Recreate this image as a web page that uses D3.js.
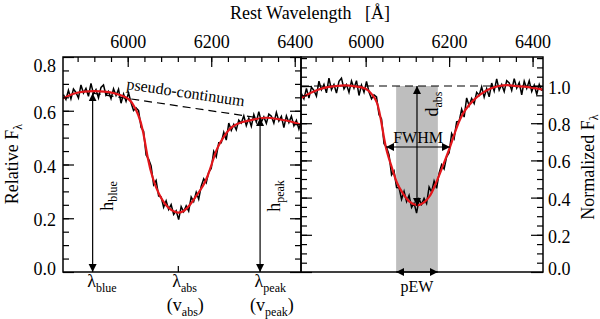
<!DOCTYPE html>
<html>
<head>
<meta charset="utf-8">
<script src="https://cdn.jsdelivr.net/npm/d3@7"></script>
<style>
body { margin: 0; background: #fff; }
text { font-family: "Liberation Serif", "Times New Roman", serif; fill: #000; }
</style>
</head>
<body>
<div id="chart"></div>
<script>
// wavelength grid of the spectrum (first pixel + step, Angstrom)
var wave0 = 5846, waveStep = 6;

// observed spectrum, relative flux (left panel)
var fluxRel = [
  .660, .642, .676, .644, .681, .668, .647, .696, .666, .683,
  .654, .702, .663, .679, .648, .687, .696, .658, .672, .645,
  .682, .657, .680, .628, .662, .635, .667, .630, .601, .611,
  .601, .538, .524, .435, .420, .395, .325, .341, .283, .279,
  .241, .265, .233, .251, .214, .228, .195, .243, .224, .246,
  .227, .279, .262, .297, .271, .319, .347, .332, .372, .385,
  .449, .429, .481, .481, .520, .491, .554, .527, .549, .529,
  .565, .554, .581, .545, .572, .542, .586, .558, .597, .558,
  .577, .553, .588, .580, .554, .594, .562, .579, .537, .581,
  .556, .580, .544, .564, .532, .564, .542
];

// same spectrum divided by the pseudo-continuum (right panel)
var fluxNorm = [
  .959, .931, .987, .935, .994, .976, .945, 1.026, .980, 1.009,
  .963, 1.042, .980, 1.008, .962, 1.025, 1.042, .984, 1.008, .966,
  1.027, .988, 1.029, .949, 1.005, .966, 1.025, .967, .931, .953,
  .942, .846, .823, .690, .671, .630, .522, .543, .454, .453,
  .391, .434, .379, .412, .347, .370, .317, .392, .364, .396,
  .368, .457, .430, .489, .450, .531, .577, .554, .619, .641,
  .745, .718, .807, .810, .875, .833, .936, .894, .933, .906,
  .966, .950, .995, .940, .986, .942, 1.016, .973, 1.038, .978,
  1.008, .970, 1.029, 1.017, .976, 1.039, .989, 1.018, .953, 1.026,
  .987, 1.028, .971, 1.005, .956, 1.009, .975
];

// smooth fit (red), left panel
var fitRelWave = [5845, 5870, 5895, 5920, 5945, 5970, 5995, 6010, 6025, 6037, 6048, 6061, 6075, 6090, 6105, 6120,
                  6135, 6150, 6165, 6180, 6192, 6204, 6215, 6230, 6250, 6275, 6300, 6330, 6360, 6390, 6415];
var fitRelFlux = [.645, .663, .671, .673, .671, .664, .650, .630, .585, .520, .425, .345, .290, .252, .230, .221,
                  .228, .252, .285, .320, .360, .415, .462, .503, .540, .558, .567, .574, .569, .560, .548];

// smooth fit (red), right panel
var fitNormWave = [5845, 5870, 5900, 5930, 5950, 5975, 6000, 6015, 6027, 6038, 6049, 6063, 6075, 6090, 6105, 6123,
                   6140, 6154, 6166, 6178, 6190, 6202, 6214, 6226, 6240, 6257, 6275, 6298, 6320, 6339, 6360, 6387, 6425];
var fitNormFlux = [.935, .965, .990, 1.000, 1.003, .998, .985, .955, .910, .800, .665, .560, .480, .420, .378, .360,
                   .375, .410, .465, .530, .600, .672, .750, .820, .875, .920, .955, .985, 1.000, 1.005, 1.000, .995, .980];

// measured features
var lamBlue = 5916, lamAbs = 6120, lamPeak = 6317;
var contBlue = 0.665, contPeak = 0.573;
var fwhmLo = 6049, fwhmHi = 6202, fwhmLevel = 0.672;
var pewLo = 6073, pewHi = 6173;
var dabsWave = 6123, dabsMin = 0.355;

// tick labels
var topTicks = [6000, 6200, 6400];
var leftTicks = [0, 0.2, 0.4, 0.6, 0.8];
var rightTicks = [0, 0.2, 0.4, 0.6, 0.8, 1.0];

var waves = fluxRel.map(function(d, i) { return wave0 + i * waveStep; });

var svg = d3.select("#chart").append("svg")
  .attr("width", 600)
  .attr("height", 319);

var pTop = 57, pBottom = 272, pLeft = 63, pMid = 301, pRight = 543;

var xL = d3.scaleLinear().domain([5845, 6415]).range([pLeft, pMid]),
    xR = d3.scaleLinear().domain([5845, 6425]).range([pMid, pRight]),
    yL = d3.scaleLinear().domain([0, 0.8]).range([pBottom, pTop]),
    yR = d3.scaleLinear().domain([0, 1.156]).range([pBottom, pTop]);

var defs = svg.append("defs");
defs.append("clipPath").attr("id", "clipL").append("rect")
  .attr("x", pLeft).attr("y", pTop).attr("width", pMid - pLeft).attr("height", pBottom - pTop);
defs.append("clipPath").attr("id", "clipR").append("rect")
  .attr("x", pMid).attr("y", pTop).attr("width", pRight - pMid).attr("height", pBottom - pTop);
defs.append("marker")
  .attr("id", "head")
  .attr("viewBox", "0 0 10 10")
  .attr("refX", 10).attr("refY", 5)
  .attr("markerWidth", 8).attr("markerHeight", 9)
  .attr("markerUnits", "userSpaceOnUse")
  .attr("orient", "auto-start-reverse")
  .append("path").attr("d", "M0,0L10,5L0,10Z").attr("fill", "#000");

// pEW band
svg.append("rect")
  .attr("x", xR(pewLo)).attr("y", yR(1.0))
  .attr("width", xR(pewHi) - xR(pewLo))
  .attr("height", yR(0) - yR(1.0))
  .attr("fill", "#bebebe");

// dashed continuum lines
svg.append("line")
  .attr("x1", xL(lamBlue)).attr("y1", yL(contBlue))
  .attr("x2", xL(lamPeak)).attr("y2", yL(contPeak))
  .attr("stroke", "#000").attr("stroke-width", 1.2).attr("stroke-dasharray", "8,5");
svg.append("line")
  .attr("x1", xR(5845)).attr("y1", yR(1.0))
  .attr("x2", xR(6425)).attr("y2", yR(1.0))
  .attr("stroke", "#000").attr("stroke-width", 1.2).attr("stroke-dasharray", "8,5");

// spectra
var specL = d3.line().x(function(d, i) { return xL(waves[i]); }).y(function(d) { return yL(d); });
var specR = d3.line().x(function(d, i) { return xR(waves[i]); }).y(function(d) { return yR(d); });

svg.append("path").datum(fluxRel).attr("clip-path", "url(#clipL)")
  .attr("d", specL).attr("fill", "none").attr("stroke", "#000").attr("stroke-width", 1.5);
svg.append("path").datum(fluxNorm).attr("clip-path", "url(#clipR)")
  .attr("d", specR).attr("fill", "none").attr("stroke", "#000").attr("stroke-width", 1.5);

var fitL = d3.line().x(function(d, i) { return xL(fitRelWave[i]); }).y(function(d) { return yL(d); }).curve(d3.curveNatural);
var fitR = d3.line().x(function(d, i) { return xR(fitNormWave[i]); }).y(function(d) { return yR(d); }).curve(d3.curveNatural);

svg.append("path").datum(fitRelFlux).attr("clip-path", "url(#clipL)")
  .attr("d", fitL).attr("fill", "none").attr("stroke", "#e3161b").attr("stroke-width", 2.2);
svg.append("path").datum(fitNormFlux).attr("clip-path", "url(#clipR)")
  .attr("d", fitR).attr("fill", "none").attr("stroke", "#e3161b").attr("stroke-width", 2.2);

// arrows
function arrow(x1, y1, x2, y2) {
  svg.append("line")
    .attr("x1", x1).attr("y1", y1).attr("x2", x2).attr("y2", y2)
    .attr("stroke", "#000").attr("stroke-width", 1.2)
    .attr("marker-start", "url(#head)").attr("marker-end", "url(#head)");
}
arrow(xL(lamBlue), yL(contBlue), xL(lamBlue), yL(0));
arrow(xL(lamPeak), yL(contPeak), xL(lamPeak), yL(0));
arrow(xR(dabsWave), yR(1.0), xR(dabsWave), yR(dabsMin));
arrow(xR(fwhmLo), yR(fwhmLevel), xR(fwhmHi), yR(fwhmLevel));
arrow(xR(pewLo), yR(0), xR(pewHi), yR(0));

// axes
function styleAxis(g) {
  g.attr("font-size", 18).attr("font-family", null);
  g.select(".domain").remove();
  g.selectAll(".tick line").attr("stroke-width", 1.2);
}
var minorWave = d3.range(5880, 6401, 40);

[xL, xR].forEach(function(x) {
  svg.append("g").attr("transform", "translate(0," + pTop + ")")
    .call(d3.axisTop(x).tickValues(minorWave).tickSize(-5).tickFormat(""))
    .call(styleAxis);
  svg.append("g").attr("transform", "translate(0," + pTop + ")")
    .call(d3.axisTop(x).tickValues(topTicks).tickSize(-10).tickPadding(9).tickFormat(d3.format("d")))
    .call(styleAxis);
});

var minorL = d3.range(1, 16).map(function(k) { return k * 0.05; });
var minorR = d3.range(1, 24).map(function(k) { return k * 0.05; });

// left axis of left panel
svg.append("g").attr("transform", "translate(" + pLeft + ",0)")
  .call(d3.axisLeft(yL).tickValues(minorL).tickSize(-6).tickFormat(""))
  .call(styleAxis);
var axL = svg.append("g").attr("transform", "translate(" + pLeft + ",0)")
  .call(d3.axisLeft(yL).tickValues(leftTicks).tickSize(-11).tickPadding(7).tickFormat(d3.format(".1f")))
  .call(styleAxis);
axL.selectAll(".tick text").attr("dy", function(d) { return d === 0.8 ? "0.8em" : d === 0 ? "0.12em" : "0.42em"; });

// shared divider: left-scale ticks pointing left, right-scale ticks pointing right
svg.append("g").attr("transform", "translate(" + pMid + ",0)")
  .call(d3.axisRight(yL).tickValues(minorL).tickSize(-6).tickFormat(""))
  .call(styleAxis);
svg.append("g").attr("transform", "translate(" + pMid + ",0)")
  .call(d3.axisRight(yL).tickValues(leftTicks).tickSize(-11).tickFormat(""))
  .call(styleAxis);
svg.append("g").attr("transform", "translate(" + pMid + ",0)")
  .call(d3.axisLeft(yR).tickValues(minorR).tickSize(-6).tickFormat(""))
  .call(styleAxis);
svg.append("g").attr("transform", "translate(" + pMid + ",0)")
  .call(d3.axisLeft(yR).tickValues(rightTicks).tickSize(-11).tickFormat(""))
  .call(styleAxis);

// right axis of right panel
svg.append("g").attr("transform", "translate(" + pRight + ",0)")
  .call(d3.axisRight(yR).tickValues(minorR).tickSize(-6).tickFormat(""))
  .call(styleAxis);
var axR = svg.append("g").attr("transform", "translate(" + pRight + ",0)")
  .call(d3.axisRight(yR).tickValues(rightTicks).tickSize(-12).tickPadding(5).tickFormat(d3.format(".1f")))
  .call(styleAxis);
axR.selectAll(".tick text").attr("dy", function(d) { return d === 0 ? "0.12em" : "0.42em"; });

// lambda_abs tick on the bottom
svg.append("g").attr("transform", "translate(0," + pBottom + ")")
  .call(d3.axisBottom(xL).tickValues([lamAbs]).tickSize(-6).tickFormat(""))
  .call(styleAxis);

// frames
[[pLeft, pMid], [pMid, pRight]].forEach(function(p) {
  svg.append("rect")
    .attr("x", p[0]).attr("y", pTop).attr("width", p[1] - p[0]).attr("height", pBottom - pTop)
    .attr("fill", "none").attr("stroke", "#000").attr("stroke-width", 1.5);
});

// texts
function subText(g, main, sub, after, size, subSize, shift) {
  g.append("tspan").text(main);
  g.append("tspan").attr("dy", shift).style("font-size", subSize + "px").text(sub);
  if (after) g.append("tspan").attr("dy", -shift).text(after);
  g.style("font-size", size + "px");
  return g;
}

svg.append("text")
  .attr("x", 310).attr("y", 19)
  .attr("text-anchor", "middle")
  .style("font-size", "18px").style("white-space", "pre")
  .text("Rest Wavelength   [\u00c5]");

subText(svg.append("text").attr("transform", "translate(18,164) rotate(-90)").attr("text-anchor", "middle"),
  "Relative F", "\u03bb", null, 18, 12, 4);
subText(svg.append("text").attr("transform", "translate(594,167) rotate(-90)").attr("text-anchor", "middle"),
  "Normalized F", "\u03bb", null, 18, 12, 4);

subText(svg.append("text").attr("transform", "translate(" + (xL(lamBlue) + 20) + ",196) rotate(-90)").attr("text-anchor", "middle"),
  "h", "blue", null, 18, 12, 4);
subText(svg.append("text").attr("transform", "translate(" + (xL(lamPeak) + 20) + ",196) rotate(-90)").attr("text-anchor", "middle"),
  "h", "peak", null, 18, 12, 4);
subText(svg.append("text").attr("transform", "translate(" + (xR(dabsWave) + 21) + ",104) rotate(-90)").attr("text-anchor", "middle"),
  "d", "abs", null, 18, 12, 4);

subText(svg.append("text").attr("x", xL(lamBlue) - 5.5).attr("y", 287), "\u03bb", "blue", null, 18, 12, 5);
subText(svg.append("text").attr("x", xL(lamAbs) - 5.5).attr("y", 287), "\u03bb", "abs", null, 18, 12, 5);
subText(svg.append("text").attr("x", xL(lamPeak) - 5.5).attr("y", 287), "\u03bb", "peak", null, 18, 12, 5);
subText(svg.append("text").attr("x", xL(lamAbs) - 11).attr("y", 311), "(v", "abs", ")", 18, 12, 5);
subText(svg.append("text").attr("x", xL(lamPeak) - 10).attr("y", 311), "(v", "peak", ")", 18, 12, 5);

svg.append("text")
  .attr("x", (xR(fwhmLo) + xR(fwhmHi)) / 2).attr("y", 143)
  .attr("text-anchor", "middle").style("font-size", "16px")
  .text("FWHM");
svg.append("text")
  .attr("x", (xR(pewLo) + xR(pewHi)) / 2).attr("y", 292)
  .attr("text-anchor", "middle").style("font-size", "16px")
  .text("pEW");

var angle = Math.atan2(yL(contPeak) - yL(contBlue), xL(lamPeak) - xL(lamBlue)) * 180 / Math.PI;
svg.append("text")
  .attr("transform", "translate(126,89) rotate(" + angle + ")")
  .style("font-size", "16px")
  .text("pseudo-continuum");
</script>
</body>
</html>
